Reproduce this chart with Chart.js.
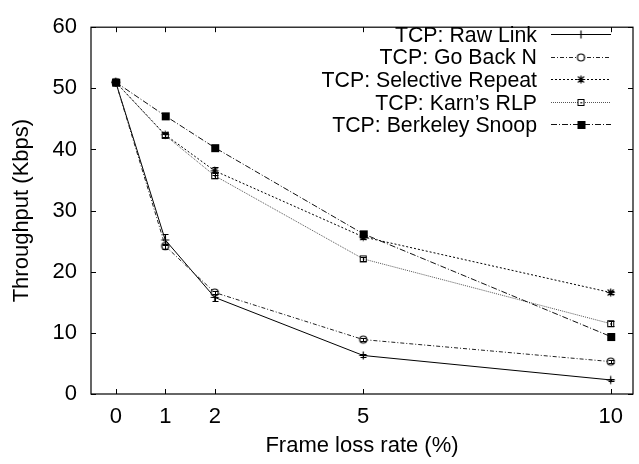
<!DOCTYPE html>
<html><head><meta charset="utf-8">
<script src="https://cdn.jsdelivr.net/npm/chart.js@4/dist/chart.umd.min.js"></script>
<style>html,body{margin:0;padding:0;background:#fff}#wrap{width:639px;height:464px;position:relative}</style>
</head><body><div id="wrap"><canvas id="c" width="639" height="464"></canvas></div>
<script>
const lossRates = [0, 1, 2, 5, 10];
const xTickValues = [0, 1, 2, 5, 10];
const rawLink = [51.0, 25.2, 15.8, 6.3, 2.3];
const goBackN = [51.0, 24.2, 16.6, 8.9, 5.3];
const selectiveRepeat = [51.0, 42.4, 36.5, 25.7, 16.6];
const karnsRLP = [51.0, 42.3, 35.7, 22.1, 11.5];
const berkeleySnoop = [51.0, 45.5, 40.3, 26.2, 9.4];
// half-width of the error bars (Kbps)
const rawLinkErr = [0, 0.9, 0.6, 0.2, 0.2];
const goBackNErr = [0, 0.4, 0.3, 0.2, 0.2];
const selectiveRepeatErr = [0, 0.3, 0.6, 0.4, 0.3];
const karnsRLPErr = [0, 0.3, 0.4, 0.3, 0.4];
const berkeleySnoopErr = [0, 0.2, 0.3, 0.5, 0.6];
const seriesNames = ['TCP: Raw Link', 'TCP: Go Back N', 'TCP: Selective Repeat', "TCP: Karn\u2019s RLP", 'TCP: Berkeley Snoop'];
const xTitle = 'Frame loss rate (%)';
const yTitle = 'Throughput (Kbps)';

const FONT = "'Liberation Sans', Arial, Helvetica, sans-serif";
const FS = 22;
const LEGEND_FS = 21.3;

function mk(draw) {
  const c = document.createElement('canvas');
  c.width = 11; c.height = 11;
  const g = c.getContext('2d');
  g.strokeStyle = '#000'; g.fillStyle = '#000'; g.lineWidth = 1.2;
  draw(g);
  return c;
}
const markers = [
  mk(g => { g.beginPath(); g.moveTo(1.5,5.5); g.lineTo(9.5,5.5); g.moveTo(5.5,1.5); g.lineTo(5.5,9.5); g.stroke(); }),
  mk(g => { g.beginPath(); g.arc(5.5,5.5,3.5,0,Math.PI*2); g.fillStyle='#fff'; g.fill(); g.stroke(); }),
  mk(g => { g.beginPath(); g.moveTo(1.5,5.5); g.lineTo(9.5,5.5); g.moveTo(5.5,1.5); g.lineTo(5.5,9.5);
            g.moveTo(2.5,2.5); g.lineTo(8.5,8.5); g.moveTo(8.5,2.5); g.lineTo(2.5,8.5); g.stroke(); }),
  mk(g => { g.fillStyle='#fff'; g.fillRect(2,2,7,7); g.lineWidth=1; g.strokeRect(2.5,2.5,6,6); g.fillStyle='#000'; g.fillRect(5,5,1.5,1.5); }),
  mk(g => { g.fillRect(2,2,8,8); })
];
const dashes = [[], [4,2,1,2], [2,2], [1,1], [6,2,1,2]];
const colors = ['#000', '#222', '#000', '#555', '#111'];
const series = [rawLink, goBackN, selectiveRepeat, karnsRLP, berkeleySnoop];
const errors = [rawLinkErr, goBackNErr, selectiveRepeatErr, karnsRLPErr, berkeleySnoopErr];

const datasets = series.map((vals, i) => ({
  label: seriesNames[i],
  data: lossRates.map((x, j) => ({x, y: vals[j]})),
  err: errors[i],
  borderColor: colors[i],
  borderWidth: 1,
  borderDash: dashes[i],
  pointStyle: markers[i],
  pointRadius: 5,
  fill: false,
  tension: 0,
  order: series.length - 1 - i
}));

const errorBarPlugin = {
  id: 'errbars',
  afterDatasetsDraw(chart) {
    const {ctx, scales} = chart;
    ctx.save();
    ctx.strokeStyle = '#000'; ctx.lineWidth = 1; ctx.setLineDash([]);
    chart.data.datasets.forEach(ds => {
      ds.data.forEach((p, j) => {
        const e = ds.err[j];
        if (!e) return;
        const px = Math.round(scales.x.getPixelForValue(p.x)) + 0.5;
        const y1 = Math.round(scales.y.getPixelForValue(p.y - e)) + 0.5;
        const y2 = Math.round(scales.y.getPixelForValue(p.y + e)) + 0.5;
        ctx.beginPath();
        ctx.moveTo(px, y1); ctx.lineTo(px, y2);
        ctx.moveTo(px - 3, y1); ctx.lineTo(px + 3, y1);
        ctx.moveTo(px - 3, y2); ctx.lineTo(px + 3, y2);
        ctx.stroke();
      });
    });
    ctx.restore();
  }
};

const framePlugin = {
  id: 'frame',
  afterDraw(chart) {
    const {ctx, chartArea: a, scales} = chart;
    ctx.save();
    ctx.strokeStyle = '#000';
    ctx.lineWidth = 1.2;
    ctx.setLineDash([]);
    ctx.strokeRect(a.left, a.top, a.right - a.left, a.bottom - a.top);
    ctx.lineWidth = 1;
    ctx.beginPath();
    scales.x.ticks.forEach(t => {
      const px = Math.round(scales.x.getPixelForValue(t.value)) + 0.5;
      ctx.moveTo(px, a.bottom); ctx.lineTo(px, a.bottom - 5);
      ctx.moveTo(px, a.top); ctx.lineTo(px, a.top + 5);
    });
    scales.y.ticks.forEach(t => {
      const py = Math.round(scales.y.getPixelForValue(t.value)) + 0.5;
      ctx.moveTo(a.left, py); ctx.lineTo(a.left + 5, py);
      ctx.moveTo(a.right, py); ctx.lineTo(a.right - 5, py);
    });
    ctx.stroke();
    // legend
    ctx.font = LEGEND_FS + 'px ' + FONT;
    ctx.textAlign = 'right';
    ctx.textBaseline = 'alphabetic';
    ctx.fillStyle = '#000';
    chart.data.datasets.forEach((ds, i) => {
      const ly = 34 + 22.6 * i;
      ctx.fillText(ds.label, 537, ly + 7.7);
      ctx.beginPath();
      ctx.strokeStyle = ds.borderColor;
      ctx.lineWidth = 1;
      ctx.setLineDash(ds.borderDash);
      ctx.moveTo(551, Math.round(ly) + 0.5); ctx.lineTo(611, Math.round(ly) + 0.5);
      ctx.stroke();
      ctx.setLineDash([]);
      const m = ds.pointStyle;
      ctx.drawImage(m, 581 - m.width / 2, Math.round(ly) + 0.5 - m.height / 2);
    });
    ctx.restore();
  }
};

new Chart(document.getElementById('c'), {
  type: 'line',
  data: { datasets },
  options: {
    responsive: false,
    animation: false,
    devicePixelRatio: 1,
    events: [],
    layout: { padding: { top: 18, right: 5, left: 0, bottom: 0 } },
    plugins: { legend: { display: false }, tooltip: { enabled: false } },
    scales: {
      x: {
        type: 'linear', min: -0.5, max: 10.45,
        afterBuildTicks: s => { s.ticks = xTickValues.map(v => ({ value: v })); },
        afterFit: s => { s.height = 70; },
        grid: { display: false, drawTicks: false },
        border: { display: false },
        ticks: { color: '#000', font: { family: FONT, size: FS }, padding: 10, maxRotation: 0, autoSkip: false },
        title: { display: true, text: xTitle, color: '#000', font: { family: FONT, size: FS }, padding: { top: 5, bottom: 5 } }
      },
      y: {
        min: 0, max: 60,
        afterFit: s => { s.width = 91; },
        grid: { display: false, drawTicks: false },
        border: { display: false },
        ticks: { stepSize: 10, color: '#000', font: { family: FONT, size: FS }, padding: 14 },
        title: { display: true, text: yTitle, color: '#000', font: { family: FONT, size: FS }, padding: { top: 9, bottom: 9 } }
      }
    }
  },
  plugins: [errorBarPlugin, framePlugin]
});
</script>
</body></html>
